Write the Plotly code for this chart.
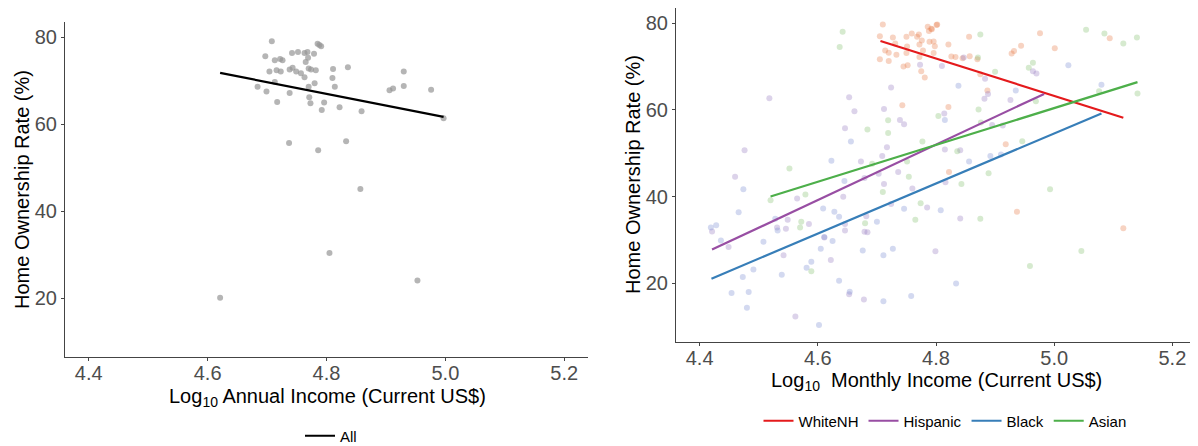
import plotly.graph_objects as go

# ---------------- Left panel data (All) ----------------
all_x = [4.708, 4.785, 4.791, 4.788, 4.697, 4.742, 4.752, 4.763, 4.768, 4.779, 4.769,
         4.713, 4.722, 4.726, 4.765, 4.704, 4.716, 4.723, 4.738, 4.743, 4.749, 4.757,
         4.763, 4.770, 4.774, 4.782, 4.811, 4.836, 4.810, 4.780, 4.713, 4.684, 4.814,
         4.770, 4.699, 4.738, 4.771, 4.717, 4.773, 4.796, 4.822, 4.792, 4.859, 4.930,
         4.930, 4.906, 4.912, 4.976, 4.997, 4.737, 4.833, 4.786, 4.857, 4.805, 4.953,
         4.621]
all_y = [79.1, 78.5, 77.9, 78.2, 75.6, 76.4, 76.6, 76.4, 76.6, 76.2, 75.3,
         74.7, 75.0, 74.7, 74.3, 72.1, 72.4, 72.1, 72.6, 73.0, 72.1, 71.7,
         70.8, 72.8, 72.6, 72.4, 72.7, 73.1, 70.6, 69.4, 69.7, 68.6, 68.6,
         68.6, 67.5, 67.2, 66.2, 65.1, 64.8, 65.0, 63.9, 63.3, 63.0, 72.1,
         68.8, 67.8, 68.2, 67.9, 61.4, 55.7, 56.1, 54.0, 45.1, 30.4, 24.1,
         20.1]
all_fit_x = [4.621, 4.997]
all_fit_y = [71.8, 61.7]

# ---------------- Right panel data (by group) ----------------
white_x = [4.710, 4.705, 4.727, 4.731, 4.750, 4.759, 4.768, 4.771, 4.776, 4.772, 4.786,
           4.793, 4.788, 4.801, 4.789, 4.796, 4.798, 4.751, 4.714, 4.720, 4.733, 4.750,
           4.772, 4.778, 4.705, 4.720, 4.745, 4.752, 4.775, 4.781, 4.743, 4.802, 4.792,
           4.796, 4.821, 4.826, 4.833, 4.845, 4.857, 4.856, 4.870, 4.928, 4.932, 4.944,
           4.976, 5.001, 5.094, 4.875, 4.887, 4.821, 4.918, 4.822, 4.937, 5.117]
white_y = [79.7, 77.0, 76.7, 75.3, 76.9, 77.6, 76.9, 77.4, 76.0, 75.1, 79.2,
           78.6, 78.2, 79.6, 75.7, 75.8, 74.7, 74.6, 73.7, 73.2, 72.7, 73.1,
           72.2, 73.7, 71.7, 71.3, 70.0, 70.3, 68.9, 67.5, 61.1, 79.7, 78.7,
           73.1, 75.1, 72.3, 72.2, 71.9, 72.4, 76.9, 71.7, 73.0, 73.6, 74.8,
           77.7, 74.2, 76.5, 68.2, 64.5, 60.7, 52.1, 45.7, 36.5, 32.7]

hisp_x = [4.773, 4.724, 4.518, 4.653, 4.662, 4.712, 4.739, 4.746, 4.646, 4.476, 4.717,
          4.709, 4.673, 4.810, 4.847, 4.883, 4.888, 4.882, 4.926, 4.964, 4.970, 4.814,
          4.815, 4.841, 4.895, 4.913, 4.460, 4.421, 4.449, 4.565, 4.549, 4.531, 4.546,
          4.585, 4.542, 4.611, 4.622, 4.643, 4.646, 4.646, 4.679, 4.682, 4.679, 4.684,
          4.703, 4.712, 4.736, 4.760, 4.785, 4.724, 4.653, 4.678, 4.562, 4.799, 4.816,
          4.841]
hisp_y = [70.4, 65.2, 62.7, 62.9, 59.7, 60.2, 57.7, 56.7, 55.8, 50.7, 51.4,
          49.4, 48.1, 70.1, 72.1, 67.2, 63.7, 62.6, 62.3, 68.9, 68.4, 59.2,
          50.9, 50.7, 56.5, 56.4, 44.6, 32.0, 28.4, 39.6, 34.7, 32.9, 32.6,
          33.7, 26.5, 30.6, 25.4, 40.0, 33.7, 32.2, 44.3, 35.5, 31.9, 31.8,
          45.3, 42.9, 45.7, 41.9, 37.5, 38.3, 17.5, 16.3, 12.4, 27.4, 43.3,
          35.0]

black_x = [4.656, 4.623, 4.838, 4.935, 5.024, 5.080, 4.856, 4.892, 4.910, 4.815, 4.419,
           4.428, 4.436, 4.474, 4.466, 4.508, 4.491, 4.473, 4.454, 4.483, 4.480, 4.528,
           4.532, 4.539, 4.581, 4.589, 4.605, 4.609, 4.611, 4.625, 4.628, 4.636, 4.645,
           4.636, 4.654, 4.602, 4.676, 4.700, 4.711, 4.727, 4.711, 4.746, 4.758, 4.808,
           4.834]
black_y = [52.7, 48.3, 65.6, 64.5, 70.3, 65.8, 48.1, 49.4, 49.7, 57.7, 32.9,
           33.4, 29.9, 41.7, 36.4, 29.6, 23.2, 21.5, 17.8, 18.0, 14.4, 34.9,
           32.2, 22.0, 23.6, 25.0, 28.0, 37.3, 30.7, 29.8, 36.5, 35.4, 43.6,
           20.6, 18.1, 10.4, 27.6, 34.2, 26.5, 28.0, 15.9, 37.2, 17.1, 36.9,
           20.0]

asian_x = [4.642, 4.637, 4.719, 4.684, 4.719, 4.777, 4.804, 4.751, 4.875, 4.871, 4.900,
           4.957, 4.964, 5.054, 5.085, 5.117, 5.140, 5.141, 5.076, 4.969, 4.872, 4.876,
           4.946, 4.836, 4.552, 4.520, 4.579, 4.572, 4.570, 4.589, 4.680, 4.710, 4.754,
           4.774, 4.765, 4.692, 4.889, 4.843, 4.993, 4.875, 5.046, 4.959]
asian_y = [78.0, 74.5, 57.6, 55.5, 54.7, 52.7, 58.6, 48.1, 77.4, 72.1, 68.8,
           69.7, 70.9, 78.5, 77.6, 75.3, 76.7, 63.8, 64.3, 62.0, 60.1, 57.1,
           52.8, 50.5, 46.5, 39.2, 40.5, 34.2, 32.9, 22.8, 33.9, 41.1, 44.6,
           38.5, 34.7, 47.6, 45.4, 42.9, 41.7, 34.9, 27.5, 24.0]

# fitted lines (endpoints)
white_fit_x = [4.706, 5.117]
white_fit_y = [75.9, 58.2]
hisp_fit_x = [4.421, 4.983]
hisp_fit_y = [27.8, 63.7]
black_fit_x = [4.420, 5.080]
black_fit_y = [21.1, 59.2]
asian_fit_x = [4.520, 5.141]
asian_fit_y = [40.05, 66.4]

group_names = ["WhiteNH", "Hispanic", "Black", "Asian"]
line_colors = ["#e41a1c", "#984ea3", "#377eb8", "#4daf4a"]
point_colors = ["rgba(230,120,70,0.33)", "rgba(150,120,190,0.33)",
                "rgba(120,140,210,0.33)", "rgba(130,190,110,0.33)"]

x_ticks = [4.4, 4.6, 4.8, 5.0, 5.2]
x_ticklabels = ["4.4", "4.6", "4.8", "5.0", "5.2"]
y_ticks = [20, 40, 60, 80]

FONT = "Liberation Sans, Arial, sans-serif"

# The page body has an 8px margin; positions below are in figure pixels
# (screen pixel - 8).
W, H = 1190, 438


def px_x(v):
    return v / W


def px_y(v):
    return 1 - v / H


fig = go.Figure()

# left
fig.add_trace(go.Scatter(x=all_x, y=all_y, mode="markers", xaxis="x", yaxis="y",
                         marker=dict(size=6, color="rgba(150,150,150,0.7)"),
                         showlegend=False, hoverinfo="skip"))
fig.add_trace(go.Scatter(x=all_fit_x, y=all_fit_y, mode="lines", xaxis="x", yaxis="y",
                         line=dict(color="black", width=2.2), name="All",
                         legend="legend"))

# right points
pts = [(white_x, white_y), (hisp_x, hisp_y), (black_x, black_y), (asian_x, asian_y)]
fits = [(white_fit_x, white_fit_y), (hisp_fit_x, hisp_fit_y),
        (black_fit_x, black_fit_y), (asian_fit_x, asian_fit_y)]
for (px, py), c in zip(pts, point_colors):
    fig.add_trace(go.Scatter(x=px, y=py, mode="markers", xaxis="x2", yaxis="y2",
                             marker=dict(size=6, color=c), showlegend=False,
                             hoverinfo="skip"))
for (fx, fy), c, n in zip(fits, line_colors, group_names):
    fig.add_trace(go.Scatter(x=fx, y=fy, mode="lines", xaxis="x2", yaxis="y2",
                             line=dict(color=c, width=2.2), name=n, legend="legend2"))

axis_common = dict(showgrid=False, zeroline=False, showline=True, linecolor="#444",
                   linewidth=1.2, ticks="outside", ticklen=3, tickcolor="#444",
                   tickfont=dict(size=20, color="#4d4d4d", family=FONT))

title_font = dict(size=20, color="black", family=FONT)

fig.update_layout(
    width=W, height=H,
    margin=dict(l=0, r=0, t=0, b=0, autoexpand=False),
    paper_bgcolor="white", plot_bgcolor="white",
    font=dict(family=FONT),
    xaxis=dict(domain=[px_x(57), px_x(580)], range=[4.36, 5.24], anchor="y",
               tickvals=x_ticks, ticktext=x_ticklabels, ticklabelstandoff=-5,
               **axis_common),
    yaxis=dict(domain=[px_y(349), px_y(14)], range=[6.5, 83.5], anchor="x",
               tickvals=y_ticks, **axis_common),
    xaxis2=dict(domain=[px_x(668), px_x(1188)], range=[4.36, 5.24], anchor="y2",
                tickvals=x_ticks, ticktext=x_ticklabels, ticklabelstandoff=-5,
                **axis_common),
    yaxis2=dict(domain=[px_y(334), 1.0], range=[6.5, 83.5], anchor="x2",
                tickvals=y_ticks, **axis_common),
    legend=dict(orientation="h", x=px_x(323), y=px_y(428), xanchor="center",
                yanchor="middle", font=dict(size=15, color="black", family=FONT),
                bgcolor="rgba(0,0,0,0)"),
    legend2=dict(orientation="h", x=px_x(937), y=px_y(413), xanchor="center",
                 yanchor="middle", font=dict(size=15, color="black", family=FONT),
                 bgcolor="rgba(0,0,0,0)"),
    annotations=[
        dict(text="Log<sub>10</sub> Annual Income (Current US$)", x=px_x(319),
             y=px_y(389), xref="paper", yref="paper", showarrow=False,
             xanchor="center", yanchor="middle", font=title_font),
        dict(text="Log<sub>10</sub>  Monthly Income (Current US$)", x=px_x(928),
             y=px_y(373), xref="paper", yref="paper", showarrow=False,
             xanchor="center", yanchor="middle", font=title_font),
        dict(text="Home Ownership Rate (%)", x=px_x(14), y=px_y(182),
             xref="paper", yref="paper", showarrow=False, textangle=-90,
             xanchor="center", yanchor="middle", font=title_font),
        dict(text="Home Ownership Rate (%)", x=px_x(625), y=px_y(167),
             xref="paper", yref="paper", showarrow=False, textangle=-90,
             xanchor="center", yanchor="middle", font=title_font),
    ],
)

fig.write_html("out.html")
